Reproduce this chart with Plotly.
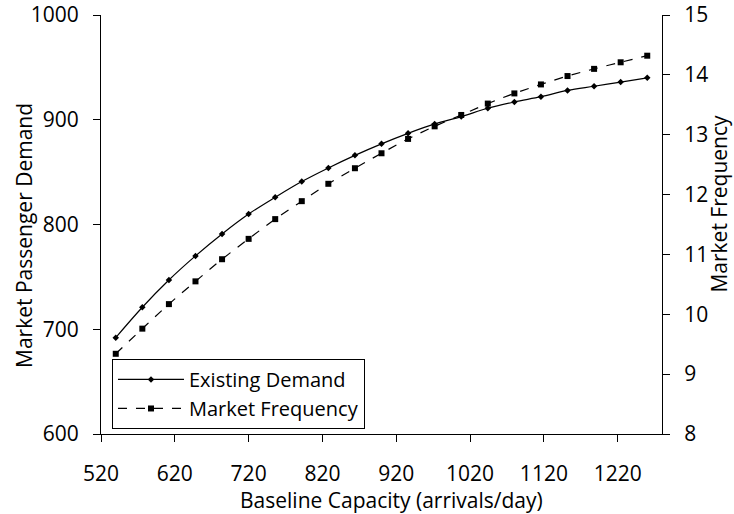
import plotly.graph_objects as go

capacity = [540, 576, 612, 648, 684, 720, 756, 792, 828, 864, 900,
            936, 972, 1008, 1044, 1080, 1116, 1152, 1188, 1224, 1260]
existing_demand = [692, 721, 747, 770, 791, 810, 826, 841, 854, 866, 877,
                   887, 896, 903, 911, 917, 922, 928, 932, 936, 940]
market_frequency = [9.34, 9.76, 10.17, 10.55, 10.92, 11.26, 11.59, 11.89, 12.18, 12.44, 12.69,
                    12.93, 13.14, 13.33, 13.52, 13.69, 13.84, 13.98, 14.10, 14.21, 14.32]
x_ticks = [520, 620, 720, 820, 920, 1020, 1120, 1220]
left_ticks = [600, 700, 800, 900, 1000]
right_ticks = [8, 9, 10, 11, 12, 13, 14, 15]

FONT = "Open Sans"
FS = 21
fig = go.Figure()
fig.add_trace(go.Scatter(
    x=capacity, y=existing_demand, name="Existing Demand", mode="lines+markers",
    line=dict(color="black", width=1.2, shape="spline"),
    marker=dict(symbol="diamond", size=5, color="black"),
))
fig.add_trace(go.Scatter(
    x=capacity, y=market_frequency, name="Market Frequency", mode="lines+markers",
    yaxis="y2",
    line=dict(color="black", width=1.2, dash="dash", shape="spline"),
    marker=dict(symbol="square", size=6, color="black"),
))

axis_common = dict(showgrid=False, zeroline=False, showline=True, linecolor="black",
                   linewidth=1.2, ticks="outside", ticklen=7, tickcolor="black",
                   automargin=False, ticklabeloverflow="allow",
                   tickfont=dict(family=FONT, size=FS, color="black"))
title_font = dict(family=FONT, size=FS, color="black")
fig.update_layout(
    width=734, height=514,
    margin=dict(l=101, r=72, t=15, b=80, autoexpand=False),
    paper_bgcolor="white", plot_bgcolor="white",
    font=dict(family=FONT, size=FS, color="black"),
    xaxis=dict(range=[520, 1280], tickvals=x_ticks, ticklabelstandoff=14, **axis_common),
    yaxis=dict(range=[600, 1000], tickvals=left_ticks, ticklabelstandoff=10, **axis_common),
    yaxis2=dict(range=[8, 15], tickvals=right_ticks, overlaying="y", side="right",
                ticklabelstandoff=10, **axis_common),
    legend=dict(x=0.0196, y=0.012, xanchor="left", yanchor="bottom",
                bgcolor="white", bordercolor="black", borderwidth=1,
                itemwidth=66,
                font=dict(family=FONT, size=20), tracegroupgap=0),
    showlegend=True,
    annotations=[
        dict(text="Baseline Capacity (arrivals/day)", xref="paper", yref="paper",
             x=0.518, y=-0.1575, xanchor="center", yanchor="middle",
             showarrow=False, font=title_font),
        dict(text="Market Passenger Demand", xref="paper", yref="paper",
             x=-0.1373, y=0.475, xanchor="center", yanchor="middle",
             textangle=-90, showarrow=False, font=title_font),
        dict(text="Market Frequency", xref="paper", yref="paper",
             x=1.1016, y=0.550, xanchor="center", yanchor="middle",
             textangle=-90, showarrow=False, font=title_font),
    ],
)
fig.write_html("out.html", config={"displayModeBar": False},
               post_script="document.body.style.margin='0';")
